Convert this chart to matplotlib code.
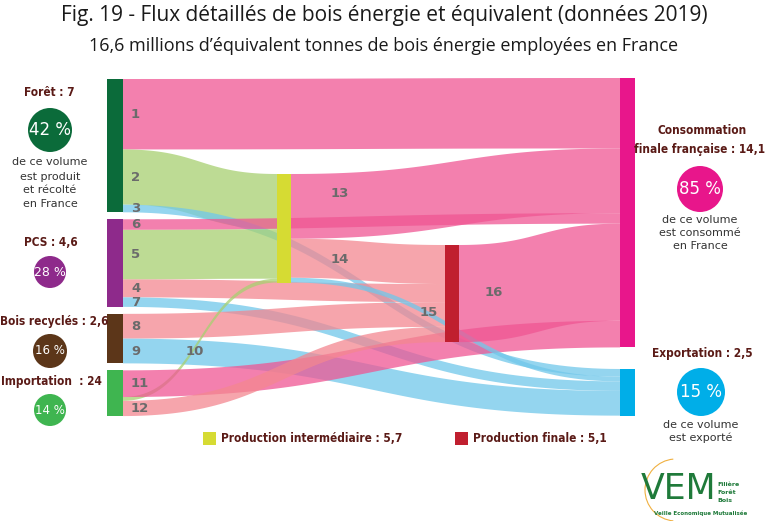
import numpy as np
import matplotlib.pyplot as plt
from matplotlib import font_manager as fm
from matplotlib.patches import Rectangle, Circle, Polygon, Arc

# ---- data (millions of tonnes equivalent bois energie, 2019) ----
nodes = ["Forêt", "PCS", "Bois recyclés", "Importation",
         "Production intermédiaire", "Production finale",
         "Consommation finale française", "Exportation"]
link_ids = list(range(1, 17))
link_src = [0, 0, 0, 1, 1, 1, 1, 2, 2, 3, 3, 3, 4, 4, 4, 5]
link_tgt = [6, 4, 7, 5, 4, 6, 7, 5, 7, 4, 6, 5, 6, 5, 7, 6]
link_val = [3.7, 2.9, 0.4, 0.95, 2.6, 0.55, 0.5, 1.3, 1.3,
            0.2, 1.4, 0.8, 3.4, 2.05, 0.25, 5.1]
src_labels = ["Forêt : 7", "PCS : 4,6", "Bois recyclés : 2,6", "Importation  : 24"]
src_pct = ["42 %", "28 %", "16 %", "14 %"]
out_pct = ["85 %", "15 %"]

# ---- colours ----
node_col = ['#0b6b3a', '#8e2a8b', '#5c3619', '#3fb550',
            '#d6db33', '#c01f2f', '#e8168b', '#00aee8']
band_col = {4: '#a7d070', 5: '#f38790', 6: '#ef5693', 7: '#70c7ea'}
maroon = '#5a1a16'
grey_num = '#6b6b6b'


def pick_condensed():
    # look for a bold condensed / narrow face among the installed fonts
    cands = []
    for f in fm.fontManager.ttflist:
        nm = f.name.lower()
        narrow = ('condensed' in nm or 'narrow' in nm or
                  'condensed' in str(f.stretch) or 'narrow' in f.fname.lower()
                  or 'condensed' in f.fname.lower())
        w = f.weight if isinstance(f.weight, int) else (700 if 'bold' in str(f.weight) else 400)
        if narrow and w >= 600:
            cands.append(f)
    cands.sort(key=lambda f: ('extra' in f.fname.lower() or 'semi' in f.fname.lower(),
                              f.fname))
    if cands:
        return fm.FontProperties(fname=cands[0].fname), True
    return fm.FontProperties(family='DejaVu Sans', weight='bold'), False


cond_fp, found = pick_condensed()
cfs = 8.5 if found else 7.5

# ---- layout (pixel space) ----
k = 19.04                     # px per unit
node_x = [107, 107, 107, 107, 277, 445, 620, 620]
node_w = [16, 16, 16, 16, 14, 14, 15, 15]
node_top = [79, 0, 0, 0, 174, 245, 78, 369]
gap = 7

n = len(nodes)
val_in = np.zeros(n)
val_out = np.zeros(n)
for s, t, v in zip(link_src, link_tgt, link_val):
    val_out[s] += v
    val_in[t] += v
node_h = np.maximum(val_in, val_out) * k
for i in range(1, 4):
    node_top[i] = node_top[i - 1] + node_h[i - 1] + gap
node_cy = [node_top[i] + node_h[i] / 2 for i in range(n)]

# stack link ends on each node (d3-sankey ordering)
y_src = {}
y_tgt = {}
for i in range(n):
    outs = sorted([j for j in range(len(link_ids)) if link_src[j] == i],
                  key=lambda j: node_cy[link_tgt[j]])
    y = node_top[i]
    for j in outs:
        y_src[j] = (y, y + link_val[j] * k)
        y += link_val[j] * k
    ins = sorted([j for j in range(len(link_ids)) if link_tgt[j] == i],
                 key=lambda j: node_cy[link_src[j]])
    y = node_top[i]
    for j in ins:
        y_tgt[j] = (y, y + link_val[j] * k)
        y += link_val[j] * k

# label offsets from band start (dx) and vertical tweak
lab_dx = {10: 63, 13: 40, 14: 40, 15: 129, 16: 26}
lab_dy = {13: -12}


def band(j):
    x0 = node_x[link_src[j]] + node_w[link_src[j]]
    x1 = node_x[link_tgt[j]]
    t = np.linspace(0, 1, 80)
    xs = x0 + (x1 - x0) * (1.5 * t * (1 - t) + t ** 3)
    s = 3 * t ** 2 - 2 * t ** 3
    (a0, b0), (a1, b1) = y_src[j], y_tgt[j]
    top = a0 + (a1 - a0) * s
    bot = b0 + (b1 - b0) * s
    return xs, top, bot


fig = plt.figure(figsize=(7.68, 5.21), dpi=100)
ax = fig.add_axes([0, 0, 1, 1])
ax.set_xlim(0, 768)
ax.set_ylim(521, 0)
ax.axis('off')

for j in range(len(link_ids)):
    xs, top, bot = band(j)
    pts = np.vstack([np.column_stack([xs, top]),
                     np.column_stack([xs[::-1], bot[::-1]])])
    ax.add_patch(Polygon(pts, closed=True, facecolor=band_col[link_tgt[j]],
                         edgecolor='none', alpha=0.75, zorder=1))

for i in range(n):
    ax.add_patch(Rectangle((node_x[i], node_top[i]), node_w[i], node_h[i],
                           facecolor=node_col[i], edgecolor='none', zorder=3))

for j in range(len(link_ids)):
    xs, top, bot = band(j)
    xl = xs[0] + lab_dx.get(link_ids[j], 8)
    yc = np.interp(xl + 6, xs, (top + bot) / 2) + lab_dy.get(link_ids[j], 0)
    ax.text(xl, yc, str(link_ids[j]), fontsize=9.5, fontweight='bold',
            color=grey_num, ha='left', va='center', zorder=4)

# ---- titles ----
ax.text(384, 15, "Fig. 19 - Flux détaillés de bois énergie et équivalent (données 2019)",
        fontsize=15, ha='center', va='center', color='#1a1a1a', family='Open Sans')
ax.text(384, 46, "16,6 millions d\u2019équivalent tonnes de bois énergie employées en France",
        fontsize=13, ha='center', va='center', color='#1a1a1a', family='Open Sans')

# ---- left side labels ----
lab_pos = [(49, 93), (51, 243), (54, 321), (51, 382)]
circ_pos = [(50, 130, 22), (50, 272, 16), (50, 351, 17), (50, 410, 16)]
circ_fs = [12, 9, 8.5, 8.5]
for i in range(4):
    ax.text(lab_pos[i][0], lab_pos[i][1], src_labels[i], fontproperties=cond_fp,
            fontsize=cfs, color=maroon, ha='center', va='center')
    cx, cy, r = circ_pos[i]
    ax.add_patch(Circle((cx, cy), r, facecolor=node_col[i], edgecolor='none'))
    ax.text(cx, cy, src_pct[i], fontsize=circ_fs[i], color='white',
            ha='center', va='center')
for yy, s in zip([162, 177, 190, 204],
                 ["de ce volume", "est produit", "et récolté", "en France"]):
    ax.text(50, yy, s, fontsize=8, color='#333333', ha='center', va='center')

# ---- right side labels ----
ax.text(702, 130, "Consommation", fontproperties=cond_fp, fontsize=cfs,
        color=maroon, ha='center', va='center')
ax.text(700, 150, "finale française : 14,1", fontproperties=cond_fp, fontsize=cfs,
        color=maroon, ha='center', va='center')
ax.add_patch(Circle((700, 189), 23, facecolor=node_col[6], edgecolor='none'))
ax.text(700, 189, out_pct[0], fontsize=12, color='white', ha='center', va='center')
for yy, s in zip([220, 233, 246], ["de ce volume", "est consommé", "en France"]):
    ax.text(700, yy, s, fontsize=8, color='#333333', ha='center', va='center')

ax.text(702, 353, "Exportation : 2,5", fontproperties=cond_fp, fontsize=cfs,
        color=maroon, ha='center', va='center')
ax.add_patch(Circle((701, 392), 24, facecolor=node_col[7], edgecolor='none'))
ax.text(701, 392, out_pct[1], fontsize=12, color='white', ha='center', va='center')
for yy, s in zip([425, 438], ["de ce volume", "est exporté"]):
    ax.text(701, yy, s, fontsize=8, color='#333333', ha='center', va='center')

# ---- legend ----
ax.add_patch(Rectangle((203, 432), 13, 13, facecolor=node_col[4], edgecolor='none'))
ax.text(221, 439, "Production intermédiaire : 5,7", fontproperties=cond_fp,
        fontsize=cfs, color=maroon, ha='left', va='center')
ax.add_patch(Rectangle((455, 432), 13, 13, facecolor=node_col[5], edgecolor='none'))
ax.text(473, 439, "Production finale : 5,1", fontproperties=cond_fp,
        fontsize=cfs, color=maroon, ha='left', va='center')

# ---- logo ----
ax.add_patch(Arc((676, 490), 62, 62, theta1=95, theta2=265, color='#f0b040', lw=0.8))
ax.text(678, 489, "VEM", family='DejaVu Sans', fontsize=25, color='#1f7a3a',
        ha='center', va='center')
for yy, s in zip([484, 493, 501], ["Filière", "Forêt", "Bois"]):
    ax.text(717, yy, s, fontsize=4.5, fontweight='bold', color='#1f7a3a',
            ha='left', va='center')
ax.text(701, 513, "Veille Economique Mutualisée", fontsize=4, fontweight='bold',
        color='#1f7a3a', ha='center', va='center')

fig.savefig('out.png', dpi=100, facecolor='white')
